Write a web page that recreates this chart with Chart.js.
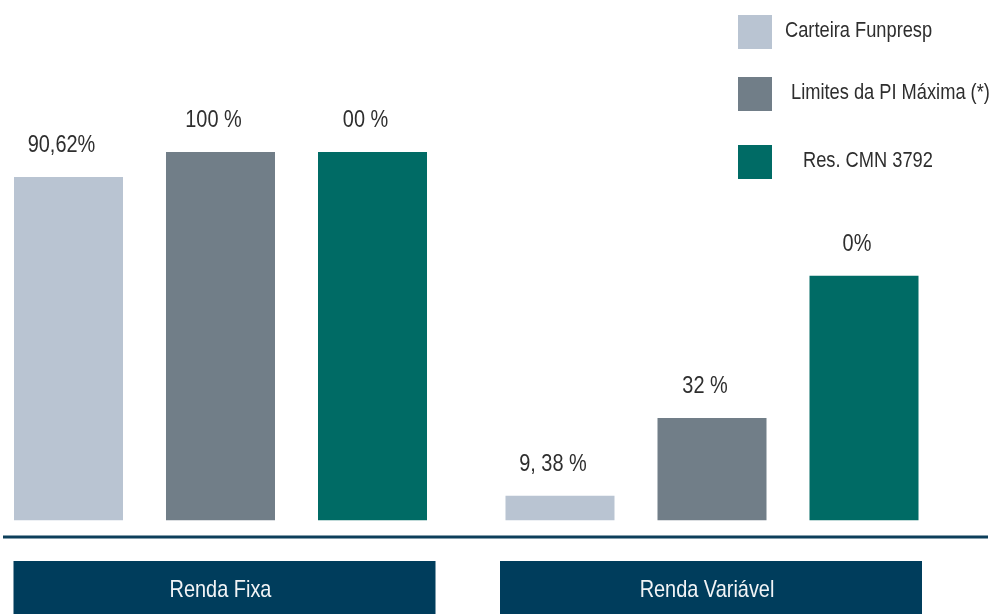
<!DOCTYPE html>
<html>
<head>
<meta charset="utf-8">
<script src="https://cdn.jsdelivr.net/npm/chart.js@4/dist/chart.umd.min.js"></script>
<style>
  html, body { margin: 0; padding: 0; background: #fff; overflow: hidden; }
  #wrap { position: absolute; left: -40px; top: 0; width: 1060px; height: 614px; }
</style>
</head>
<body>
<div id="wrap"><canvas id="grafico"></canvas></div>
<script>
const categorias = ['Renda Fixa', 'Renda Variável'];
const series = ['Carteira Funpresp', 'Limites da PI Máxima (*)', 'Res. CMN 3792'];
const cores = ['#b9c4d2', '#717e88', '#006b65'];
const carteira = [93.2, 6.7];
const limitesPI = [100, 27.8];
const resCMN = [100, 66.4];
const rotCarteira = ['90,62%', '9, 38 %'];
const rotLimites = ['100 %', '32 %'];
const rotCMN = ['00 %', '0%'];

const FONTE = '"Liberation Sans", Arial, sans-serif';
const DX = 40; // deslocamento do canvas
const ESTREITO = 0.83; // fonte condensada

// texto comprimido na horizontal
function textoEstreito(ctx, texto, x, y, alinhar) {
    ctx.save();
    ctx.translate(x, y);
    ctx.scale(ESTREITO, 1);
    ctx.textAlign = alinhar;
    ctx.fillText(texto, 0, 0);
    ctx.restore();
}

const pluginDesenho = {
    id: 'desenho',
    afterDatasetsDraw(chart) {
        const ctx = chart.ctx;
        ctx.save();
        ctx.textBaseline = 'alphabetic';

        // rotulos acima das barras
        ctx.font = '24px ' + FONTE;
        ctx.fillStyle = '#2e2e2e';
        chart.data.datasets.forEach((ds, i) => {
            const meta = chart.getDatasetMeta(i);
            meta.data.forEach((barra, j) => {
                textoEstreito(ctx, ds.rotulos[j], barra.x - 7, barra.y - 25, 'center');
            });
        });

        // linha do eixo
        ctx.strokeStyle = '#0d3f5b';
        ctx.lineWidth = 3;
        ctx.beginPath();
        ctx.moveTo(3 + DX, 537);
        ctx.lineTo(988 + DX, 537);
        ctx.stroke();

        // caixas das categorias
        const x = chart.scales.x;
        const ajuste = [4, -1];
        categorias.forEach((cat, j) => {
            const cx = x.getPixelForValue(j) + ajuste[j];
            ctx.fillStyle = '#003d5c';
            ctx.fillRect(cx - 211, 561, 422, 53);
            ctx.fillStyle = '#f2f4f6';
            ctx.font = '24px ' + FONTE;
            textoEstreito(ctx, cat, cx - 4, 597, 'center');
        });

        // legenda
        const legenda = [
            { y: 15, tx: 785 },
            { y: 77, tx: 791 },
            { y: 145, tx: 803 }
        ];
        ctx.font = '22px ' + FONTE;
        chart.data.datasets.forEach((ds, i) => {
            const l = legenda[i];
            ctx.fillStyle = ds.backgroundColor;
            ctx.fillRect(738 + DX, l.y, 34, 34);
            ctx.fillStyle = '#2e2e2e';
            textoEstreito(ctx, ds.label, l.tx + DX, l.y + 22, 'left');
        });
        ctx.restore();
    }
};

const ctx = document.getElementById('grafico').getContext('2d');
new Chart(ctx, {
    type: 'bar',
    data: {
        labels: categorias,
        datasets: [
            { label: series[0], data: carteira, backgroundColor: cores[0], rotulos: rotCarteira },
            { label: series[1], data: limitesPI, backgroundColor: cores[1], rotulos: rotLimites },
            { label: series[2], data: resCMN, backgroundColor: cores[2], rotulos: rotCMN }
        ]
    },
    options: {
        responsive: true,
        maintainAspectRatio: false,
        animation: false,
        categoryPercentage: 0.9278,
        barPercentage: 0.7171,
        layout: {
            padding: { left: 14.75, right: 62.25, top: 152, bottom: 93.5 }
        },
        plugins: {
            legend: { display: false },
            tooltip: { enabled: false }
        },
        scales: {
            x: { display: false },
            y: { display: false, min: 0, max: 100 }
        }
    },
    plugins: [pluginDesenho]
});
</script>
</body>
</html>
